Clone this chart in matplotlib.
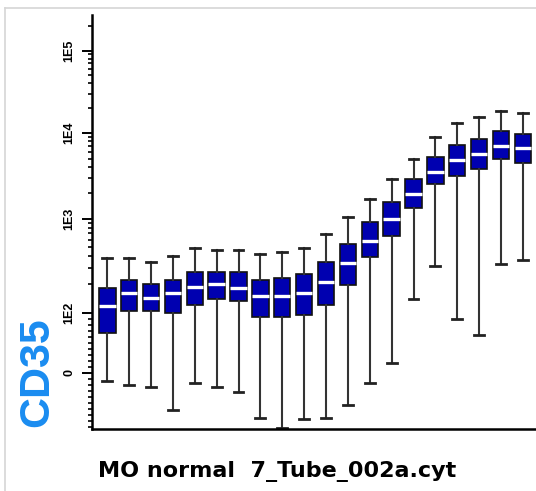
import numpy as np
import matplotlib
matplotlib.use("Agg")
import matplotlib.pyplot as plt
from matplotlib.lines import Line2D

# box statistics per sample
positions = np.arange(1, 21)
whis_lo = [-14, -20, -24, -61, -17, -24, -31, -75, -91, -77,
           -74, -54, -17, 16, 141, 315, 90, 63, 331, 365]
q1 = [66, 103, 103, 100, 121, 141, 134, 93, 93, 96,
      121, 198, 396, 659, 1352, 2547, 3150, 3770, 4920, 4415]
med = [118, 160, 145, 160, 187, 204, 185, 152, 152, 160,
       214, 337, 582, 1008, 1932, 3475, 4830, 5660, 7015, 6590]
q3 = [182, 223, 201, 222, 272, 272, 272, 222, 233, 257,
      348, 541, 929, 1574, 2884, 5190, 7145, 8400, 10580, 9570]
whis_hi = [381, 381, 348, 403, 487, 463, 463, 427, 441, 487,
           687, 1046, 1690, 2884, 4920, 8850, 13240, 15530, 18530, 17540]

tick_vals = [0, 1e2, 1e3, 1e4, 1e5]
tick_labels = ["0", "1E2", "1E3", "1E4", "1E5"]

# display transform: linear below 100, per-decade spacing above
dec_log = [2, 3, 4, 5, 7]
dec_px = [0, 93.7, 180, 262, 426]
lin_px = 60.3


def fwd(x):
    x = np.asarray(x, dtype=float)
    lg = np.log10(np.clip(x, 100, None))
    hi = lin_px + np.interp(lg, dec_log, dec_px)
    return np.where(x < 100, x * lin_px / 100.0, hi)


def inv(y):
    y = np.asarray(y, dtype=float)
    hi = 10 ** np.interp(y - lin_px, dec_px, dec_log)
    return np.where(y < lin_px, y / lin_px * 100.0, hi)


fig = plt.figure(figsize=(5.36, 4.91), dpi=100)
ax = fig.add_axes([92 / 536, 1 - 429.3 / 491, 1 - 92 / 536, (429.3 - 15) / 491])

stats = []
for i in range(len(positions)):
    stats.append({"whislo": whis_lo[i], "q1": q1[i], "med": med[i],
                  "q3": q3[i], "whishi": whis_hi[i], "fliers": []})

ax.bxp(stats, positions=positions, widths=0.75, patch_artist=True,
       showfliers=False,
       boxprops=dict(facecolor="#0000b0", edgecolor="#111111", linewidth=1.2),
       medianprops=dict(color="white", linewidth=2.4, solid_capstyle="butt"),
       whiskerprops=dict(color="#333333", linewidth=1.5),
       capprops=dict(color="#222222", linewidth=2.0),
       capwidths=0.45)

ax.set_yscale("function", functions=(fwd, inv))
ax.set_ylim(-93.5, 2.72e5)
ax.set_xlim(0.3, 20.6)

minor = list(range(-90, 0, 10)) + list(range(10, 100, 10))
for d in [100, 1000, 10000]:
    minor += [k * d for k in range(2, 10)]
minor += [2e5]
ax.set_yticks(tick_vals)
ax.set_yticklabels(tick_labels, rotation=90, va="center",
                   fontfamily="Liberation Sans", fontweight="bold", fontsize=9)
ax.set_yticks(minor, minor=True)
ax.tick_params(axis="y", which="major", direction="out", length=7, width=1.4, pad=5)
ax.tick_params(axis="y", which="minor", direction="out", length=3, width=1.2)
ax.set_xticks([])

ax.spines["top"].set_visible(False)
ax.spines["right"].set_visible(False)
ax.spines["left"].set_linewidth(1.8)
ax.spines["bottom"].set_linewidth(1.8)

fig.text(37 / 536, 1 - 372 / 491, "CD35", rotation=90, ha="center", va="center",
         color="#1a8cf0", fontsize=31, fontweight="bold", fontfamily="Liberation Sans")
fig.text(277.5 / 536, 1 - 471 / 491, "MO normal  7_Tube_002a.cyt", ha="center", va="center",
         color="black", fontsize=16, fontweight="heavy", fontfamily="DejaVu Sans")

# faint frame of the surrounding panel
fig.add_artist(Line2D([5 / 536, 1], [1 - 8 / 491, 1 - 8 / 491], transform=fig.transFigure,
                      color="#d6d6d6", linewidth=1.2))
fig.add_artist(Line2D([5 / 536, 5 / 536], [0, 1 - 8 / 491], transform=fig.transFigure,
                      color="#d6d6d6", linewidth=1.2))

fig.savefig("out.png", dpi=100)
